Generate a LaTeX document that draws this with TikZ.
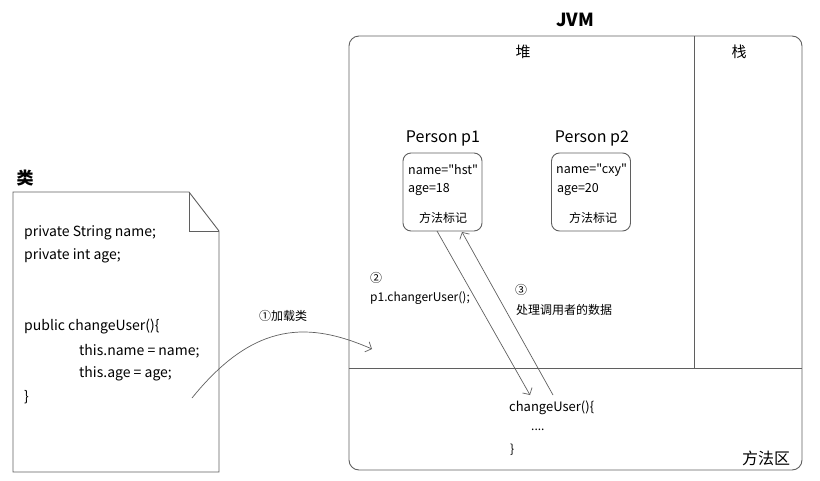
\documentclass[tikz,border=0pt]{standalone}
\usepackage{fontspec}
\setmainfont{Noto Sans CJK SC}
\newfontfamily\plainfont{Noto Sans CJK SC}
\usetikzlibrary{positioning,arrows.meta}
\definecolor{linegray}{RGB}{95,95,95}

\begin{document}
\begin{tikzpicture}[x=1pt,y=-1pt,
  frame/.style={draw=linegray,line width=0.9pt},
  obj/.style={draw=linegray,line width=0.9pt,rounded corners=8pt,minimum width=79pt,minimum height=78pt,inner sep=0pt},
  code/.style={anchor=west,inner sep=0pt,font=\fontsize{12}{14}\selectfont},
  src/.style={anchor=west,inner sep=0pt,font=\fontsize{14}{16}\selectfont},
  title/.style={inner sep=0pt,font=\fontsize{16}{18}\selectfont},
  area/.style={inner sep=0pt,font=\fontsize{15}{17}\selectfont},
  link/.style={draw=linegray,line width=0.7pt,-{Straight Barb[length=5pt,width=11pt]}}
]
\useasboundingbox (0,0) rectangle (820,480);

% class file
\node (cls) at (25,178) [inner sep=0pt,font=\fontsize{17}{19}\selectfont\bfseries] {类};
\draw[frame] (13,192) -- (189,192) -- (219,231) -- (219,472) -- (13,472) -- cycle;
\draw[frame] (189,192) -- (189,231) -- (219,231);
\node (f1) at (24,233) [src] {private String name;};
\node (f2) at (24,256) [src] {private int age;};
\node (m1) at (24,327) [src] {public changeUser()\{};
\node (m2) at (79,351) [src] {this.name = name;};
\node (m3) at (79,374) [src] {this.age = age;};
\node (m4) at (24,397) [src] {\}};

% jvm
\node (jvm) at (575,20) [inner sep=0pt,font=\fontsize{18}{20}\selectfont\bfseries] {JVM};
\draw[frame,rounded corners=10pt] (349,36) rectangle (802,470);
\draw[frame] (694,36) -- (694,368);
\draw[frame] (349,368) -- (802,368);
\node (heap) at (523,52) [area] {堆};
\node (stack) at (739,52) [area] {栈};
\node (method) at (766,458) [area,font=\fontsize{16}{18}\selectfont] {方法区};

% objects
\node (t1) at (443,138) [title] {Person p1};
\node (p1) at (442.5,192) [obj] {};
\node (p1n) at (408,170) [code,font=\fontsize{12.5}{14}\plainfont] {name="hst"};
\node (p1a) at (408,190) [code,font=\fontsize{12.5}{14}\selectfont] {age=18};
\node (p1m) at (443,218) [inner sep=0pt,font=\fontsize{12}{14}\selectfont] {方法标记};

\node (t2) at (592,138) [title] {Person p2};
\node (p2) at (591,192) [obj] {};
\node (p2n) at (556,170) [code,font=\fontsize{12.5}{14}\plainfont] {name="cxy"};
\node (p2a) at (557,190) [code,font=\fontsize{12.5}{14}\selectfont] {age=20};
\node (p2m) at (593,218) [inner sep=0pt,font=\fontsize{12}{14}\selectfont] {方法标记};

% method area
\node (cu) at (509,408) [code,font=\fontsize{13}{15}\selectfont] {changeUser()\{};
\node (cud) at (531,430) [code] {....};
\node (cue) at (510,450) [code] {\}};

% steps
\node (s1) at (283,316) [inner sep=0pt,font=\fontsize{12}{14}\selectfont] {①加载类};
\node (s2a) at (370,278) [code] {②};
\node (s2b) at (370,298) [code] {p1.changerUser();};
\node (s3a) at (515,290) [code] {③};
\node (s3b) at (516,310) [code] {处理调用者的数据};

\coordinate (load0) at (192,398);
\coordinate (load1) at (372,349);
\coordinate (p1out) at (437,231);
\coordinate (p1in) at (462,232);
\coordinate (cuin) at (530,395);
\coordinate (cuout) at (553,395);

\draw[link] (load0) .. controls (255,320) and (310,322) .. (load1);
\draw[link] (p1out) -- (cuin);
\draw[link] (cuout) -- (p1in);
\end{tikzpicture}
\end{document}
